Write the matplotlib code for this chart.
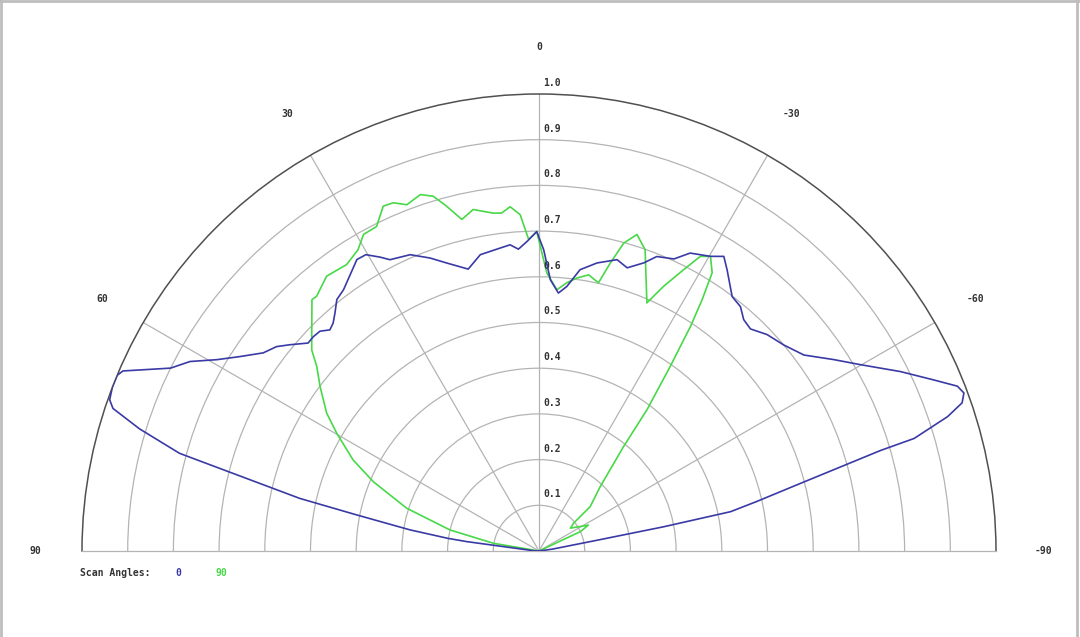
import numpy as np
import matplotlib
matplotlib.use("Agg")
import matplotlib.pyplot as plt
from matplotlib.lines import Line2D

# ---------------- data ----------------
scan_labels = ["0", "90"]

blue_theta = [90, 86.9, 82.6, 82.1, 80.7, 78.8, 77.6, 74.8, 73.0, 71.5, 70.6, 69.0, 67.4, 66.6,
              63.6, 61.5, 59.3, 57.0, 54.3, 52.1, 50.4, 48.0, 46.5, 44.9, 43.4, 42.1, 40.6, 38.8,
              36.8, 32.0, 30.3, 28.4, 27.1, 23.5, 20.4, 17.8, 14.1, 11.2, 7.9, 5.4, 3.9, 2.2, 0.4,
              -0.9, -2.4, -4.3, -6.0, -8.3, -11.4, -15.0, -17.3, -20.0, -21.8, -24.8, -26.9,
              -30.2, -32.1, -33.8, -37.2, -39.5, -41.5, -43.6, -46.5, -49.9, -53.5, -57.0,
              -59.9, -63.6, -66.6, -68.5, -69.6, -70.7, -71.8, -73.3, -73.6, -75.5, -77.2,
              -78.4, -79.0, -79.5, -82.0, -90]
blue_r = [0.0, 0.012, 0.159, 0.201, 0.286, 0.407, 0.536, 0.815, 0.914, 0.983, 0.996, 1.0, 1.0, 0.992,
          0.900, 0.869, 0.820, 0.781, 0.743, 0.728, 0.708, 0.680, 0.681, 0.679, 0.666, 0.672, 0.686,
          0.706, 0.714, 0.752, 0.751, 0.731, 0.716, 0.707, 0.684, 0.662, 0.636, 0.661, 0.667, 0.673,
          0.662, 0.678, 0.699, 0.659, 0.594, 0.566, 0.582, 0.622, 0.643, 0.660, 0.649, 0.671, 0.694,
          0.704, 0.731, 0.746, 0.761, 0.740, 0.699, 0.693, 0.676, 0.671, 0.688, 0.700, 0.721, 0.769,
          0.813, 0.883, 0.942, 0.984, 0.992, 0.981, 0.941, 0.857, 0.779, 0.591, 0.488,
          0.428, 0.278, 0.130, 0.030, 0.0]

green_theta = [90, 80.4, 76.7, 72.1, 67.3, 63.9, 59.8, 57.0, 53.1, 50.3, 48.5, 46.2, 42.1, 41.1,
               37.7, 33.9, 31.0, 29.0, 26.6, 24.3, 22.7, 20.9, 18.4, 16.6, 15.0, 13.1, 10.9, 9.3,
               7.7, 6.3, 4.8, 3.2, 1.9, 0.4, -1.6, -3.9, -5.9, -7.9, -10.2, -12.5, -13.9, -15.4,
               -17.2, -19.4, -23.5, -25.2, -27.2, -28.7, -30.2, -31.9, -33.0, -34.0, -35.4, -37.4,
               -39.0, -43.6, -49.1, -51.2, -54.0, -62.3, -64.9, -70]
green_r = [0.0, 0.101, 0.200, 0.304, 0.393, 0.453, 0.512, 0.554, 0.599, 0.632, 0.664, 0.689, 0.741,
           0.740, 0.760, 0.755, 0.769, 0.792, 0.794, 0.828, 0.826, 0.811, 0.822, 0.810, 0.781, 0.745,
           0.761, 0.753, 0.746, 0.744, 0.756, 0.737, 0.682, 0.699, 0.609, 0.573, 0.590, 0.603, 0.614,
           0.601, 0.649, 0.699, 0.725, 0.699, 0.592, 0.640, 0.692, 0.735, 0.746, 0.717, 0.655, 0.593,
           0.496, 0.389, 0.294, 0.194, 0.148, 0.097, 0.085, 0.122, 0.100, 0.0]

ring_values = [0.1, 0.2, 0.3, 0.4, 0.5, 0.6, 0.7, 0.8, 0.9, 1.0]
angle_ticks = [90, 60, 30, 0, -30, -60, -90]
angle_labels = ["90", "60", "30", "0", "-30", "-60", "-90"]

# ---------------- style ----------------
BLUE = "#3a3aa6"
GREEN = "#48d848"
GRID = "#b4b4b4"
FONT = dict(family="DejaVu Sans Mono", fontsize=7, fontweight="bold", color="#333333")

W, H = 1080, 637
fig = plt.figure(figsize=(W / 100, H / 100), dpi=100)
fig.patch.set_facecolor("white")

# centre of the half circle (pixels from top-left) and radius in pixels
cx, cy, R = 539, 551, 457
# the half-disc is fitted into a square box of side 2R, centred vertically
box_cy = cy - R / 2.0
ax = fig.add_axes([(cx - R) / W, (H - (box_cy + R)) / H, 2 * R / W, 2 * R / H],
                  projection="polar")
ax.set_theta_zero_location("N")
ax.set_theta_direction(1)
ax.set_thetamin(-90)
ax.set_thetamax(90)
ax.set_ylim(0, 1)

ax.set_yticks(ring_values[:-1])
ax.set_yticklabels([])
ax.set_xticks(np.deg2rad([-60, -30, 0, 30, 60]))
ax.set_xticklabels([])
ax.tick_params(length=0)
ax.grid(True, color=GRID, lw=0.9)
ax.spines["polar"].set_color("#505050")
ax.spines["polar"].set_linewidth(1.1)
ax.spines["start"].set_color(GRID)
ax.spines["end"].set_color(GRID)
ax.spines["start"].set_linewidth(0.9)
ax.spines["end"].set_linewidth(0.9)

ax.plot(np.deg2rad(blue_theta), blue_r, color=BLUE, lw=1.2, zorder=4)
ax.plot(np.deg2rad(green_theta), green_r, color=GREEN, lw=1.2, zorder=3)

for v in ring_values:
    ax.annotate(f"{v:.1f}", xy=(0, v), xytext=(4, 11), textcoords="offset pixels",
                ha="left", va="center", **FONT)

for a, s in zip(angle_ticks, angle_labels):
    ax.text(np.deg2rad(a), 1.103, s, ha="center", va="center", **FONT)

# legend
ly = 1 - 573 / H
fig.text(80 / W, ly, "Scan Angles:", ha="left", va="center", **FONT)
fig.text(178 / W, ly, scan_labels[0], ha="center", va="center",
         **{**FONT, "color": BLUE})
fig.text(221 / W, ly, scan_labels[1], ha="center", va="center",
         **{**FONT, "color": GREEN})

# frame of the picture
for xs, ys in [([1 / W, 1 / W], [0, 1]), ([0, 1], [1 - 1 / H, 1 - 1 / H]),
               ([1077 / W, 1077 / W], [0, 1])]:
    fig.add_artist(Line2D(xs, ys, transform=fig.transFigure, color="#bdbdbd", lw=2))

fig.savefig("out.png", dpi=100, facecolor="white")
